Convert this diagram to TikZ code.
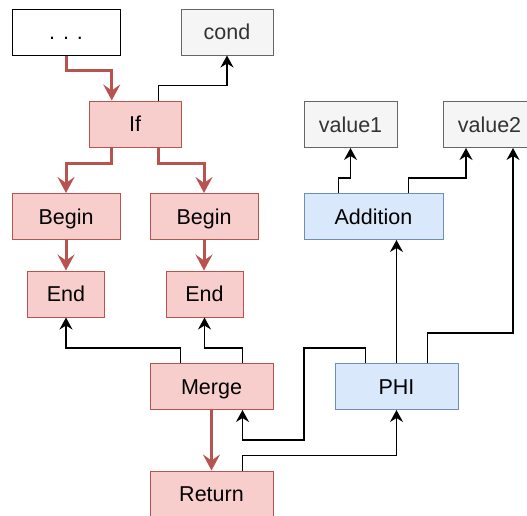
\documentclass[tikz,border=0pt]{standalone}
\usepackage{fontspec}
\setmainfont{Liberation Sans}
\usetikzlibrary{arrows.meta,calc}
\definecolor{redfill}{HTML}{F8CECC}
\definecolor{redline}{HTML}{B85450}
\definecolor{bluefill}{HTML}{DAE8FC}
\definecolor{blueline}{HTML}{6C8EBF}
\definecolor{grayfill}{HTML}{F5F5F5}
\definecolor{grayline}{HTML}{666666}
\definecolor{graytext}{HTML}{333333}
\tikzset{
  box/.style={draw, line width=1pt, inner sep=0pt, minimum height=46pt, text height=15.4pt, text depth=0pt, font=\fontsize{21.5}{25}\selectfont},
  redbox/.style={box, fill=redfill, draw=redline},
  bluebox/.style={box, fill=bluefill, draw=blueline},
  graybox/.style={box, fill=grayfill, draw=grayline, text=graytext},
  plainbox/.style={box, fill=white, draw=black},
  flow/.style={draw=redline, line width=3pt, -{Stealth[length=16pt,width=17pt,inset=6pt]}},
  dep/.style={draw=black, line width=1.3pt, -{Stealth[length=12pt,width=13pt,inset=4pt]}},
}
\begin{document}
\begin{tikzpicture}[x=1pt,y=-1pt]
\useasboundingbox (0,0) rectangle (527,515);
\begin{scope}
\clip (0,0) rectangle (527,515);
\node[plainbox, minimum width=108pt] (dots) at (66,32) {. . .};
\node[graybox, minimum width=92pt] (cond) at (227,32) {cond};
\node[redbox, minimum width=92pt] (if) at (135,124) {If};
\node[redbox, minimum width=108pt] (b1) at (66,216.5) {Begin};
\node[redbox, minimum width=108pt] (b2) at (204,216.5) {Begin};
\node[redbox, minimum width=77pt] (e1) at (66,294) {End};
\node[redbox, minimum width=77pt] (e2) at (204.5,294) {End};
\node[redbox, minimum width=123pt] (merge) at (211.5,386.5) {Merge};
\node[redbox, minimum width=123pt] (ret) at (211.5,494) {Return};
\node[bluebox, minimum width=123pt] (phi) at (396.5,386.5) {PHI};
\node[bluebox, minimum width=139pt] (add) at (373.5,216.5) {Addition};
\node[graybox, minimum width=93pt] (v1) at (350.5,124.5) {value1};
\node[graybox, minimum width=93pt] (v2) at (489.5,124.5) {value2};

\coordinate (ifNa) at ($(if.north west)!0.25!(if.north east)$);
\coordinate (ifNb) at ($(if.north west)!0.75!(if.north east)$);
\coordinate (ifSa) at ($(if.south west)!0.25!(if.south east)$);
\coordinate (ifSb) at ($(if.south west)!0.75!(if.south east)$);
\coordinate (mNa) at ($(merge.north west)!0.25!(merge.north east)$);
\coordinate (mNb) at ($(merge.north west)!0.75!(merge.north east)$);
\coordinate (mSb) at ($(merge.south west)!0.75!(merge.south east)$);
\coordinate (rNb) at ($(ret.north west)!0.75!(ret.north east)$);
\coordinate (pNa) at ($(phi.north west)!0.25!(phi.north east)$);
\coordinate (pNb) at ($(phi.north west)!0.75!(phi.north east)$);
\coordinate (aNa) at ($(add.north west)!0.25!(add.north east)$);
\coordinate (aNb) at ($(add.north west)!0.75!(add.north east)$);
\coordinate (v2Sa) at ($(v2.south west)!0.25!(v2.south east)$);
\coordinate (v2Sb) at ($(v2.south west)!0.75!(v2.south east)$);

\draw[flow] (dots.south) -- ++(0,15) -| (ifNa);
\draw[dep] (ifNb) -- ++(0,-15) -| (cond.south);
\draw[flow] (ifSa) -- ++(0,16) -| (b1.north);
\draw[flow] (ifSb) -- ++(0,16) -| (b2.north);
\draw[flow] (b1.south) -- (e1.north -| b1.south);
\draw[flow] (b2.south) -- (e2.north -| b2.south);
\draw[dep] (mNa) -- ++(0,-15) -| (e1.south);
\draw[dep] (mNb) -- ++(0,-15) -| (e2.south);
\draw[flow] (merge.south) -- (ret.north);
\draw[dep] (pNa) -- ++(0,-15) -| (304,440) -| (mSb);
\draw[dep] (rNb) -- ++(0,-15) -| (phi.south);
\draw[dep] (phi.north) -- (phi.north |- add.south);
\draw[dep] (pNb) -- ++(0,-30) -| (v2Sb);
\draw[dep] (aNa) -- ++(0,-15) -| (v1.south);
\draw[dep] (aNb) -- ++(0,-15) -| (v2Sa);
\end{scope}
\end{tikzpicture}
\end{document}
